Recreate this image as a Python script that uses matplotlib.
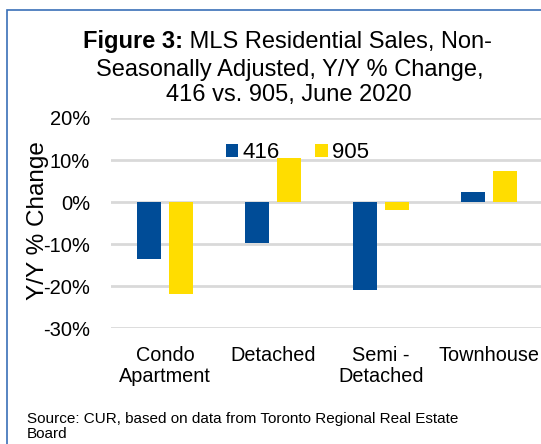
import matplotlib.pyplot as plt
import numpy as np
from matplotlib.patches import Rectangle

plt.rcParams['font.family'] = ['Liberation Sans', 'DejaVu Sans']

# data
categories = ['Condo\nApartment', 'Detached', 'Semi -\nDetached', 'Townhouse']
sales_416 = [-13.5, -9.8, -21.0, 2.4]
sales_905 = [-22.0, 10.5, -2.0, 7.4]
yticks = [-30, -20, -10, 0, 10, 20]

blue = '#004C97'
yellow = '#FFDD00'

fig = plt.figure(figsize=(5.41, 4.44), dpi=100)
ax = fig.add_axes([111 / 541, 1 - 328 / 444, 432 / 541, (328 - 118) / 444])

x = np.arange(len(categories))
w = 0.22
ax.bar(x - 0.145, sales_416, w, color=blue, label='416', zorder=3)
ax.bar(x + 0.145, sales_905, w, color=yellow, label='905', zorder=3)

ax.set_xlim(-0.5, 3.5)
ax.set_ylim(-30, 20)
ax.set_yticks(yticks)
ax.set_yticklabels([f'{t}%' for t in yticks], fontsize=14.5)
ax.yaxis.grid(True, color='#D9D9D9', linewidth=2, zorder=0)
ax.set_xticks(x)
ax.set_xticklabels(categories, fontsize=14.3, linespacing=1.1)
ax.tick_params(length=0)
ax.tick_params(axis='y', pad=15)
ax.tick_params(axis='x', pad=13)
for s in ax.spines.values():
    s.set_visible(False)

ax.set_ylabel('Y/Y % Change', fontsize=17.5)
ax.yaxis.set_label_coords(-0.144, 0.51)

ax.legend(loc='center left', bbox_to_anchor=(115 / 432, (328 - 153) / 210), ncol=2,
          frameon=False, fontsize=16, handlelength=0.55, handleheight=0.55,
          handletextpad=0.2, columnspacing=1.6, borderaxespad=0, borderpad=0)

# title, first line has a bold lead-in
t1 = fig.text(83 / 541, 1 - 48 / 444, 'Figure 3:', ha='left', va='baseline',
              fontsize=17, fontweight='bold')
ax.annotate(' MLS Residential Sales, Non-', xy=(1, 0), xycoords=t1,
            ha='left', va='bottom', fontsize=17)
fig.text(290 / 541, 1 - 76 / 444, 'Seasonally Adjusted, Y/Y % Change,',
         ha='center', va='baseline', fontsize=17)
fig.text(289 / 541, 1 - 101 / 444, '416 vs. 905, June 2020',
         ha='center', va='baseline', fontsize=17)

fig.text(27 / 541, 1 - 423 / 444,
         'Source: CUR, based on data from Toronto Regional Real Estate',
         ha='left', va='baseline', fontsize=11)
fig.text(27 / 541, 1 - 438 / 444, 'Board', ha='left', va='baseline', fontsize=11)

# outer frame of the figure box
fig.patches.append(Rectangle((7 / 541, -0.05), 1.1, 1 - 10 / 444 + 0.05,
                             transform=fig.transFigure, fill=False,
                             edgecolor='#3A6FB7', linewidth=1.2))

fig.savefig('out.png', dpi=100)
